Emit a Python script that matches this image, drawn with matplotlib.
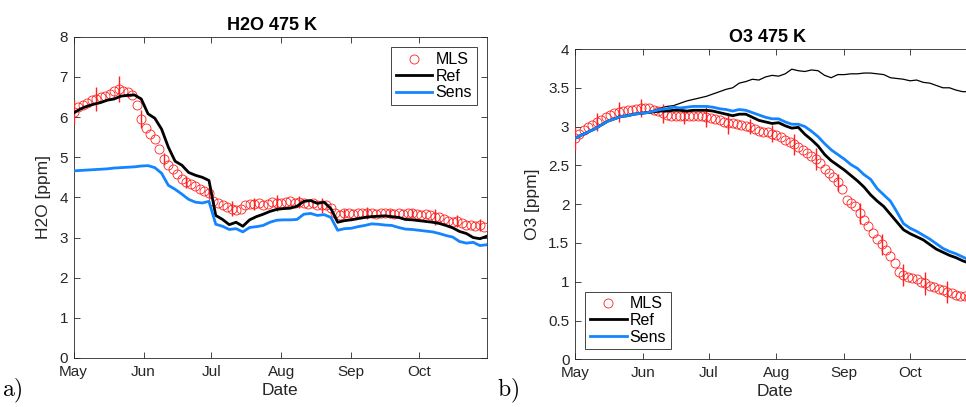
import numpy as np
import matplotlib
matplotlib.use("Agg")
import matplotlib.pyplot as plt

plt.rcParams['font.family'] = ['Liberation Sans', 'DejaVu Sans']
plt.rcParams['mathtext.fontset'] = 'cm'

# days since 1 May
line_days = np.arange(0, 184, 3)
mls_days = np.arange(0, 184, 2)
err_step = 5  # every 5th MLS point (10 days) has an error bar

month_ticks = [0, 31, 61, 92, 123, 153]
month_labels = ['May', 'Jun', 'Jul', 'Aug', 'Sep', 'Oct']

# ---- H2O 475 K ----
h2o_mls = [6.12, 6.25, 6.3, 6.35, 6.42, 6.45, 6.5, 6.52, 6.58, 6.65,
           6.7, 6.66, 6.62, 6.55, 6.3, 5.95, 5.72, 5.58, 5.45, 5.2,
           4.95, 4.8, 4.7, 4.58, 4.45, 4.38, 4.33, 4.28, 4.22, 4.17,
           4.1, 3.9, 3.85, 3.8, 3.75, 3.72, 3.68, 3.72, 3.82, 3.83,
           3.83, 3.85, 3.82, 3.84, 3.88, 3.86, 3.85, 3.88, 3.9, 3.87,
           3.88, 3.86, 3.83, 3.86, 3.82, 3.8, 3.82, 3.74, 3.6, 3.55,
           3.6, 3.62, 3.58, 3.6, 3.62, 3.6, 3.62, 3.58, 3.6, 3.62,
           3.6, 3.58, 3.6, 3.58, 3.62, 3.6, 3.58, 3.55, 3.58, 3.55,
           3.52, 3.5, 3.45, 3.42, 3.38, 3.4, 3.35, 3.32, 3.3, 3.28,
           3.3, 3.27]
h2o_err = [0.3, 0.3, 0.32, 0.22, 0.15, 0.15, 0.12, 0.18, 0.15, 0.2,
           0.15, 0.18, 0.12, 0.15, 0.12, 0.1, 0.2, 0.15, 0.15]
h2o_ref = [6.1, 6.2, 6.27, 6.32, 6.36, 6.42, 6.45, 6.52, 6.54, 6.55,
           6.45, 6.08, 5.97, 5.7, 5.25, 4.9, 4.8, 4.62, 4.55, 4.5,
           4.42, 3.55, 3.45, 3.32, 3.38, 3.28, 3.44, 3.52, 3.58, 3.65,
           3.7, 3.72, 3.73, 3.78, 3.9, 3.92, 3.85, 3.88, 3.72, 3.38,
           3.42, 3.44, 3.47, 3.5, 3.52, 3.53, 3.54, 3.52, 3.5, 3.45,
           3.44, 3.42, 3.4, 3.38, 3.35, 3.3, 3.24, 3.15, 3.1, 3.0,
           2.97, 3.03]
h2o_sens = [4.66, 4.67, 4.68, 4.69, 4.7, 4.71, 4.73, 4.74, 4.75, 4.76,
            4.78, 4.79, 4.74, 4.6, 4.3, 4.2, 4.08, 3.95, 3.88, 3.86,
            3.9, 3.33, 3.28, 3.2, 3.22, 3.14, 3.25, 3.27, 3.3, 3.38,
            3.43, 3.44, 3.44, 3.45, 3.58, 3.6, 3.55, 3.57, 3.5, 3.18,
            3.22, 3.23, 3.27, 3.3, 3.34, 3.33, 3.31, 3.3, 3.25, 3.21,
            3.2, 3.18, 3.16, 3.14, 3.1, 3.05, 3.01, 2.9, 2.86, 2.88,
            2.8, 2.82]

# ---- O3 475 K ----
o3_mls = [2.85, 2.91, 2.95, 2.99, 3.02, 3.06, 3.09, 3.12, 3.15, 3.17,
          3.19, 3.2, 3.21, 3.22, 3.23, 3.24, 3.24, 3.24, 3.22, 3.2,
          3.17, 3.15, 3.14, 3.13, 3.13, 3.13, 3.13, 3.14, 3.14, 3.13,
          3.12, 3.11, 3.1, 3.08, 3.06, 3.04, 3.04, 3.03, 3.02, 3.01,
          3.0, 2.97, 2.94, 2.93, 2.93, 2.91, 2.89, 2.86, 2.83, 2.8,
          2.77, 2.74, 2.7, 2.66, 2.62, 2.58, 2.53, 2.45, 2.4, 2.35,
          2.28, 2.2, 2.05, 2.01, 1.97, 1.88, 1.8, 1.72, 1.63, 1.55,
          1.48, 1.41, 1.33, 1.24, 1.12, 1.09, 1.06, 1.05, 1.03, 1.0,
          0.98, 0.95, 0.93, 0.91, 0.89, 0.87, 0.85, 0.83, 0.82, 0.81,
          0.8, 0.79]
o3_err = [0.15, 0.12, 0.13, 0.12, 0.12, 0.1, 0.13, 0.13, 0.1, 0.11,
          0.14, 0.14, 0.11, 0.14, 0.14, 0.14, 0.15, 0.14, 0.12]
o3_ref = [2.85, 2.89, 2.93, 2.97, 3.02, 3.07, 3.1, 3.13, 3.14, 3.16,
          3.17, 3.18, 3.19, 3.2, 3.2, 3.21, 3.21, 3.2, 3.21, 3.21,
          3.21, 3.2, 3.18, 3.16, 3.14, 3.16, 3.16, 3.12, 3.08, 3.06,
          3.04, 3.05, 3.01, 2.98, 2.99, 2.9, 2.83, 2.75, 2.64, 2.56,
          2.5, 2.44, 2.37, 2.3, 2.22, 2.12, 2.04, 1.97, 1.87, 1.77,
          1.67, 1.62, 1.58, 1.54, 1.48, 1.42, 1.38, 1.34, 1.31, 1.27,
          1.24, 1.22]
o3_sens = [2.85, 2.89, 2.93, 2.97, 3.02, 3.07, 3.1, 3.13, 3.14, 3.16,
           3.17, 3.18, 3.2, 3.22, 3.23, 3.25, 3.24, 3.25, 3.26, 3.26,
           3.26, 3.25, 3.23, 3.22, 3.2, 3.22, 3.21, 3.18, 3.15, 3.12,
           3.1, 3.1, 3.06, 3.03, 3.03, 3.0, 2.94, 2.87, 2.78, 2.7,
           2.64, 2.58, 2.51, 2.46, 2.38, 2.32, 2.2, 2.12, 2.04, 1.9,
           1.75, 1.69, 1.65, 1.6, 1.55, 1.49, 1.43, 1.39, 1.36, 1.32,
           1.28, 1.25]
o3_thin = [2.85, 2.89, 2.93, 2.97, 3.02, 3.07, 3.1, 3.13, 3.14, 3.16,
           3.17, 3.19, 3.21, 3.24, 3.26, 3.27, 3.3, 3.33, 3.35, 3.37,
           3.39, 3.42, 3.45, 3.48, 3.5, 3.56, 3.58, 3.61, 3.6, 3.64,
           3.66, 3.65, 3.68, 3.74, 3.72, 3.71, 3.73, 3.72, 3.66, 3.63,
           3.67, 3.67, 3.68, 3.68, 3.69, 3.69, 3.68, 3.67, 3.63, 3.62,
           3.61, 3.59, 3.6, 3.57, 3.56, 3.53, 3.5, 3.5, 3.47, 3.45,
           3.45, 3.44]

red = '#ff2020'
blue = '#1484ff'
axcol = '#262626'

fig = plt.figure(figsize=(9.66, 4.07), dpi=100)
ax1 = fig.add_axes([0.0761, 0.1204, 0.4277, 0.7894])
ax2 = fig.add_axes([0.5952, 0.1172, 0.4149, 0.7624])


def draw(ax, mls, err, ref, sens, title, ylabel, ymax, yticks, ylabels):
    mls = np.array(mls)
    ax.plot(mls_days, mls, 'o', mfc='none', mec=red, mew=0.6, ms=6.5,
            label='MLS', zorder=3)
    ax.errorbar(mls_days[::err_step], mls[::err_step], yerr=err, fmt='none',
                ecolor=red, elinewidth=1.0, capsize=0, zorder=3)
    ax.plot(line_days, ref, color='black', lw=2.0, label='Ref', zorder=4)
    ax.plot(line_days, sens, color=blue, lw=2.0, label='Sens', zorder=4)
    ax.set_xlim(0, 183)
    ax.set_ylim(0, ymax)
    ax.set_xticks(month_ticks)
    ax.set_xticklabels(month_labels)
    ax.set_yticks(yticks)
    ax.set_yticklabels(ylabels)
    ax.tick_params(direction='in', top=True, right=True, length=4,
                   width=0.6, labelsize=11, colors=axcol)
    ax.tick_params(axis='x', pad=5)
    ax.tick_params(axis='y', pad=4)
    for s in ax.spines.values():
        s.set_color(axcol)
        s.set_linewidth(0.6)
    ax.set_title(title, fontsize=13, fontweight='bold', x=0.48, pad=5)
    ax.set_xlabel('Date', fontsize=12.5, color=axcol, labelpad=3)
    ax.set_ylabel(ylabel, fontsize=12.5, color=axcol, labelpad=6)


draw(ax1, h2o_mls, h2o_err, h2o_ref, h2o_sens, 'H2O 475 K', 'H2O [ppm]', 8,
     range(9), [str(i) for i in range(9)])
o3_ticks = np.arange(0, 4.01, 0.5)
draw(ax2, o3_mls, o3_err, o3_ref, o3_sens, 'O3 475 K', 'O3 [ppm]', 4,
     o3_ticks, ['%g' % t for t in o3_ticks])
ax2.plot(line_days, o3_thin, color='black', lw=0.9, zorder=2)

leg_kw = dict(fontsize=11.5, frameon=True, fancybox=False, framealpha=1,
              edgecolor=axcol, handlelength=2.3, handletextpad=0.2,
              borderpad=0.3, labelspacing=0.1, borderaxespad=0)
l1 = ax1.legend(loc='upper right', bbox_to_anchor=(0.976, 0.967), **leg_kw)
l2 = ax2.legend(loc='lower left', bbox_to_anchor=(0.025, 0.032), **leg_kw)
for l in (l1, l2):
    l.get_frame().set_linewidth(0.6)

fig.text(0.002, 0.025, r'$\mathrm{a)}$', fontsize=17)
fig.text(0.514, 0.025, r'$\mathrm{b)}$', fontsize=17)

fig.savefig('out.png', dpi=100)
